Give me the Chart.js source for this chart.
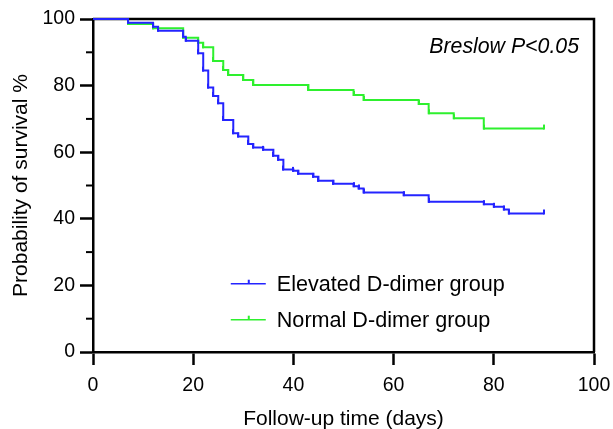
<!DOCTYPE html>
<html>
<head>
<meta charset="utf-8">
<script src="https://cdn.jsdelivr.net/npm/chart.js@4"></script>
<style>
  html, body { margin: 0; padding: 0; background: #fff; }
  #wrap { width: 613px; height: 429px; }
</style>
</head>
<body>
<div id="wrap"><canvas id="myChart" width="613" height="429"></canvas></div>
<script>
// Kaplan-Meier steps (day, survival %)
const elevatedDays = [0, 7, 12, 13, 18, 18.5, 21, 22, 23, 24, 25, 26, 28, 29, 31, 32, 34, 36, 37, 38, 40, 41, 44, 45, 48, 52, 53, 54, 62, 67, 78, 80, 82, 83, 90];
const elevatedSurv = [100, 98.9, 97.7, 96.5, 94.7, 93.5, 89.7, 84.5, 79.4, 76.9, 74.7, 69.7, 65.7, 64.7, 62.5, 61.4, 60.7, 58.9, 57.7, 54.8, 54.4, 53.5, 52.6, 51.4, 50.5, 49.8, 49.1, 47.9, 47.1, 45.1, 44.4, 43.6, 42.8, 41.6, 41.6];

const normalDays = [0, 7, 12, 18, 21, 22, 24, 26, 27, 30, 32, 43, 52, 54, 65, 67, 72, 78, 90];
const normalSurv = [100, 98.5, 97.2, 94.4, 92.9, 91.5, 87.4, 84.7, 83.2, 81.7, 80.2, 78.7, 77.2, 75.7, 74.5, 71.7, 70.2, 67.1, 67.1];

const seriesNames = ['Elevated D-dimer group', 'Normal D-dimer group'];
const seriesColors = ['#2424ff', '#2ef02e'];
const xTicks = [0, 20, 40, 60, 80, 100];
const yTicks = [0, 20, 40, 60, 80, 100];
const yMinorTicks = [10, 30, 50, 70, 90];

const FONT = '"Liberation Sans", Arial, Helvetica, sans-serif';

// small upward tick used as the censor mark
function censorMark(color) {
  const c = document.createElement('canvas');
  c.width = 2; c.height = 10;
  const g = c.getContext('2d');
  g.fillStyle = color;
  g.fillRect(0, 1, 2, 5);
  return c;
}

function toPoints(days, vals) {
  return days.map((d, i) => ({ x: d, y: vals[i] }));
}

const framePlugin = {
  id: 'frame',
  beforeDatasetsDraw(chart) {
    const { ctx, chartArea: a, scales } = chart;
    ctx.save();
    ctx.strokeStyle = '#000';
    ctx.lineWidth = 2.5;
    ctx.beginPath();
    ctx.moveTo(a.left, a.top);
    ctx.lineTo(a.right, a.top);
    ctx.lineTo(a.right, a.bottom);
    ctx.stroke();

    // minor y ticks
    ctx.lineWidth = 2;
    yMinorTicks.forEach((v) => {
      const y = scales.y.getPixelForValue(v);
      ctx.beginPath();
      ctx.moveTo(a.left - 7, y);
      ctx.lineTo(a.left, y);
      ctx.stroke();
    });
    ctx.restore();
  },
  afterDraw(chart) {
    const { ctx, chartArea: a, scales } = chart;
    ctx.save();
    // legend inside the plot
    const lx = scales.x.getPixelForValue(27.5);
    chart.data.datasets.forEach((ds, i) => {
      const ly = scales.y.getPixelForValue(20.5 - i * 10.8);
      ctx.strokeStyle = ds.borderColor;
      ctx.lineWidth = 1.5;
      ctx.beginPath();
      ctx.moveTo(lx, ly);
      ctx.lineTo(lx + 35, ly);
      ctx.stroke();
      ctx.fillStyle = ds.borderColor;
      ctx.fillRect(lx + 17, ly - 4, 2, 4);
      ctx.fillStyle = '#000';
      ctx.font = '21.6px ' + FONT;
      ctx.textBaseline = 'middle';
      ctx.textAlign = 'left';
      ctx.fillText(ds.label, lx + 46, ly + 1);
    });

    ctx.font = 'italic 21.3px ' + FONT;
    ctx.textAlign = 'right';
    ctx.textBaseline = 'middle';
    ctx.fillStyle = '#000';
    ctx.fillText('Breslow P<0.05', a.right - 15, a.top + 28);
    ctx.restore();
  }
};

const ctx = document.getElementById('myChart');

new Chart(ctx, {
  type: 'line',
  data: {
    datasets: [
      {
        label: seriesNames[0],
        data: toPoints(elevatedDays, elevatedSurv),
        borderColor: seriesColors[0],
        borderWidth: 2,
        stepped: 'before',
        pointStyle: censorMark(seriesColors[0]),
        pointRadius: (c) => (c.dataIndex === 0 ? 0 : 3),
        clip: false
      },
      {
        label: seriesNames[1],
        data: toPoints(normalDays, normalSurv),
        borderColor: seriesColors[1],
        borderWidth: 2,
        stepped: 'before',
        pointStyle: censorMark(seriesColors[1]),
        pointRadius: (c) => (c.dataIndex === 0 ? 0 : 3),
        clip: false
      }
    ]
  },
  options: {
    responsive: false,
    animation: false,
    layout: { padding: { top: 19, right: 19, left: 0, bottom: 0 } },
    plugins: {
      legend: { display: false },
      tooltip: { enabled: false }
    },
    scales: {
      x: {
        type: 'linear',
        min: 0,
        max: 100,
        afterBuildTicks: (s) => { s.ticks = xTicks.map((v) => ({ value: v })); },
        afterFit: (s) => { s.height = 77; s.paddingRight = 0; s.paddingLeft = 0; },
        grid: { drawOnChartArea: false, tickLength: 13, tickWidth: 2.5, tickColor: '#000' },
        border: { color: '#000', width: 2.5 },
        ticks: { color: '#000', padding: 9, maxRotation: 0, font: { size: 19.5, family: FONT } },
        title: {
          display: true,
          text: 'Follow-up time (days)',
          color: '#000',
          font: { size: 21, family: FONT },
          padding: { top: 0, bottom: -3 }
        }
      },
      y: {
        min: 0,
        max: 100,
        afterBuildTicks: (s) => { s.ticks = yTicks.map((v) => ({ value: v })); },
        afterFit: (s) => { s.width = 93; },
        grid: { drawOnChartArea: false, tickLength: 13, tickWidth: 2.5, tickColor: '#000' },
        border: { color: '#000', width: 2.5 },
        ticks: { color: '#000', padding: 5, font: { size: 19.5, family: FONT } },
        title: {
          display: true,
          text: 'Probability of survival %',
          color: '#000',
          font: { size: 21, family: FONT },
          padding: { top: 9, bottom: 0 }
        }
      }
    }
  },
  plugins: [framePlugin]
});
</script>
</body>
</html>
